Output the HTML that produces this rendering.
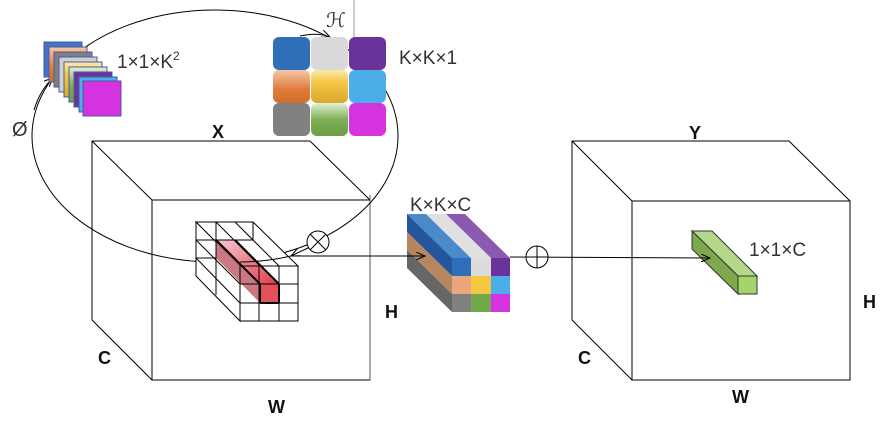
<!DOCTYPE html>
<html><head><meta charset="utf-8"><style>body{margin:0;background:#fff}svg{display:block}text{font-family:"Liberation Sans","DejaVu Sans",sans-serif}</style></head>
<body>
<svg width="889" height="431" viewBox="0 0 889 431" xmlns="http://www.w3.org/2000/svg">
<defs>
<linearGradient id="go" x1="0" y1="0" x2="0" y2="1"><stop offset="0" stop-color="#f4c7a8"/><stop offset="0.6" stop-color="#e07a3a"/><stop offset="1" stop-color="#d0702f"/></linearGradient>
<linearGradient id="gy" x1="0" y1="0" x2="0" y2="1"><stop offset="0" stop-color="#fde9a8"/><stop offset="0.4" stop-color="#f5c542"/><stop offset="1" stop-color="#d9a830"/></linearGradient>
<linearGradient id="gg" x1="0" y1="0" x2="0" y2="1"><stop offset="0" stop-color="#e2efd9"/><stop offset="0.5" stop-color="#7fb055"/><stop offset="1" stop-color="#6a9d45"/></linearGradient>
<linearGradient id="gr" x1="0" y1="0" x2="1" y2="1"><stop offset="0" stop-color="#f6c9d2"/><stop offset="1" stop-color="#e23c4c"/></linearGradient>
<marker id="ar" markerWidth="10" markerHeight="8" refX="9" refY="4" orient="auto" markerUnits="userSpaceOnUse"><path d="M0,0 L9,4 L0,8" fill="none" stroke="#000" stroke-width="1"/></marker>
</defs>

<!-- left cube -->
<g fill="none" stroke="#000" stroke-width="1">
<polyline points="92,320 92,141 310,141 370,200"/>
<line x1="92" y1="141" x2="152" y2="200"/>
<line x1="92" y1="320" x2="152" y2="380"/>
<rect x="152" y="200" width="218" height="180"/>
</g>
<line x1="370" y1="195" x2="370" y2="380" stroke="#555"/>

<!-- big ellipse -->
<ellipse cx="215" cy="136" rx="183" ry="126" fill="none" stroke="#000" stroke-width="1"/>
<path d="M300,36 Q318,32 330,37" fill="none" stroke="#000" marker-end="url(#ar)"/>
<path d="M34,110 Q40,90 53,78" fill="none" stroke="#000" marker-end="url(#ar)"/>
<line x1="354" y1="0" x2="354" y2="37" stroke="#999" stroke-width="1"/>

<!-- stack -->
<g stroke="#4a5aa0" stroke-width="1">
<rect x="44" y="42" width="38" height="35" fill="#4472c4"/>
<rect x="49" y="47" width="38" height="35" fill="url(#go)"/>
<rect x="54" y="52" width="38" height="35" fill="#7f7f7f"/>
<rect x="59" y="57" width="38" height="35" fill="#d0d0d0"/>
<rect x="64" y="62" width="38" height="35" fill="url(#gy)"/>
<rect x="69" y="67" width="38" height="35" fill="url(#gg)"/>
<rect x="74" y="72" width="38" height="35" fill="#7030a0"/>
<rect x="79" y="77" width="38" height="35" fill="#4aaee8"/>
<rect x="83" y="81" width="38" height="35" fill="#d633e0"/>
</g>

<!-- KxK grid -->
<g>
<rect x="273" y="37" width="37" height="33" rx="6" fill="#2f6fba"/>
<rect x="311" y="37" width="37" height="33" rx="6" fill="#d9d9d9"/>
<rect x="349" y="37" width="37" height="33" rx="6" fill="#6a3399"/>
<rect x="273" y="70" width="37" height="33" rx="6" fill="url(#go)"/>
<rect x="311" y="70" width="37" height="33" rx="6" fill="url(#gy)"/>
<rect x="349" y="70" width="37" height="33" rx="6" fill="#4cade8"/>
<rect x="273" y="103" width="37" height="33" rx="6" fill="#808080"/>
<rect x="311" y="103" width="37" height="33" rx="6" fill="url(#gg)"/>
<rect x="349" y="103" width="37" height="33" rx="6" fill="#d633e0"/>
</g>

<!-- kernel wireframe grid -->
<g stroke="#000" stroke-width="1">
<polygon points="196,222 253,222 298,266 240,266" fill="#fff"/>
<polygon points="196,222 240,266 240,321 196,276" fill="#fff"/>
<polygon points="216,240 235,240 279,284 260,284" fill="url(#gr)" stroke="none"/>
<polygon points="216,240 260,284 260,303 216,258" fill="#c0606e" stroke="none" opacity="0.85"/>
<rect x="260" y="284" width="19" height="19" fill="#e4505c" stroke="none"/>
<rect x="240" y="266" width="58" height="55" fill="none"/>
<line x1="259" y1="266" x2="259" y2="321"/><line x1="279" y1="266" x2="279" y2="321"/>
<line x1="240" y1="284" x2="298" y2="284"/><line x1="240" y1="303" x2="298" y2="303"/>
<line x1="216" y1="222" x2="260" y2="266"/><line x1="235" y1="222" x2="279" y2="266"/>
<line x1="196" y1="240" x2="240" y2="284"/><line x1="196" y1="258" x2="240" y2="303"/>
<line x1="196" y1="240" x2="253" y2="240" /><line x1="196" y1="258" x2="216" y2="258"/>
<line x1="216" y1="222" x2="216" y2="295"/><line x1="235" y1="240" x2="279" y2="284" stroke-width="2"/>
<line x1="216" y1="240" x2="260" y2="284" stroke-width="2"/>
<line x1="260" y1="284" x2="260" y2="303" stroke-width="2"/>
<line x1="279" y1="284" x2="279" y2="303" stroke-width="2"/>
<line x1="260" y1="303" x2="279" y2="303" stroke-width="2"/>
<line x1="253" y1="222" x2="253" y2="240"/>
</g>
<path d="M240,262 Q265,262 291,256" fill="none" stroke="#000"/>

<!-- arrows -->
<line x1="291" y1="256" x2="425" y2="256" stroke="#000" marker-end="url(#ar)"/>
<path d="M310,247 L291,256" stroke="#000" fill="none" marker-end="url(#ar)"/>
<circle cx="318" cy="242" r="11" fill="#fff" stroke="#000"/>
<line x1="310" y1="234" x2="326" y2="250" stroke="#000"/><line x1="326" y1="234" x2="310" y2="250" stroke="#000"/>

<!-- KxKxC block -->
<g>
<polygon points="407,214 426,214 471,258 452,258" fill="#4a8ac8"/>
<polygon points="426,214 446,214 491,258 471,258" fill="#e0e0e0"/>
<polygon points="446,214 465,214 510,258 491,258" fill="#8a5ab0"/>
<polygon points="407,214 452,258 452,276 407,232" fill="#23569a"/>
<polygon points="407,232 452,276 452,294 407,250" fill="#b8865e"/>
<polygon points="407,250 452,294 452,312 407,268" fill="#666"/>
<rect x="452" y="258" width="19" height="18" fill="#2f6fba"/>
<rect x="471" y="258" width="20" height="18" fill="#dcdcdc"/>
<rect x="491" y="258" width="19" height="18" fill="#6a3399"/>
<rect x="452" y="276" width="19" height="18" fill="#e8a87c"/>
<rect x="471" y="276" width="20" height="18" fill="#f5c842"/>
<rect x="491" y="276" width="19" height="18" fill="#4cade8"/>
<rect x="452" y="294" width="19" height="18" fill="#808080"/>
<rect x="471" y="294" width="20" height="18" fill="#70a84a"/>
<rect x="491" y="294" width="19" height="18" fill="#d633e0"/>
</g>
<line x1="404" y1="256" x2="425" y2="256" stroke="#000" marker-end="url(#ar)"/>

<!-- right cube -->
<g fill="none" stroke="#000" stroke-width="1">
<polyline points="572,320 572,141 789,141 850,201"/>
<line x1="572" y1="141" x2="632" y2="201"/>
<line x1="572" y1="320" x2="632" y2="380"/>
<rect x="632" y="201" width="218" height="179"/>
</g>
<line x1="510" y1="257" x2="710" y2="258" stroke="#000" marker-end="url(#ar)"/>
<circle cx="537" cy="257" r="11" fill="#fff" stroke="#000"/>
<line x1="526" y1="257" x2="548" y2="257" stroke="#000"/><line x1="537" y1="246" x2="537" y2="268" stroke="#000"/>

<!-- green bar -->
<g stroke="#333" stroke-width="1">
<polygon points="692,231 712,231 757,276 738,276" fill="#b4d98a"/>
<polygon points="692,231 738,276 738,294 692,249" fill="#7ea84c"/>
<rect x="738" y="276" width="19" height="18" fill="#a5d46a"/>
</g>
<line x1="700" y1="258" x2="710" y2="258" stroke="#000" marker-end="url(#ar)"/>

<!-- labels -->
<g fill="#333">
<text x="117" y="68" font-size="19">1×1×K<tspan font-size="12" dy="-8">2</tspan></text>
<text x="399" y="64" font-size="19">K×K×1</text>
<text x="326" y="27" font-size="20" font-family="Liberation Serif, serif" font-style="italic">ℋ</text>
<text x="12" y="136" font-size="20">Ø</text>
<text x="410" y="211" font-size="19">K×K×C</text>
<text x="749" y="256" font-size="19">1×1×C</text>
</g>
<g fill="#111" font-weight="bold" font-size="18">
<text x="212" y="138">X</text>
<text x="689" y="139">Y</text>
<text x="385" y="318">H</text>
<text x="98" y="364">C</text>
<text x="268" y="413">W</text>
<text x="863" y="308">H</text>
<text x="578" y="364">C</text>
<text x="732" y="403">W</text>
</g>
</svg>
</body></html>
